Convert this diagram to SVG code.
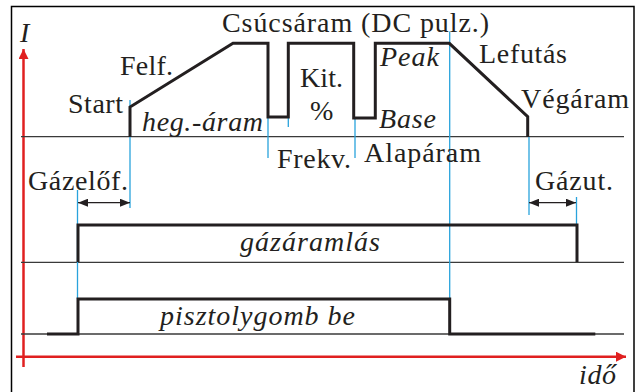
<svg xmlns="http://www.w3.org/2000/svg" width="637" height="392" viewBox="0 0 637 392">
<style>
.t{font-family:'Liberation Serif','DejaVu Serif','Noto Serif','Times New Roman',serif;font-size:28px;fill:#231f20}
.i{font-style:italic}
.w{fill:none;stroke:#231f20;stroke-width:3;stroke-linejoin:miter}
.b{fill:none;stroke:#3a3a3a;stroke-width:1.3}
.bl{fill:none;stroke:#29a3dc;stroke-width:1.3}
.ax{fill:none;stroke:#e02020;stroke-width:2.5}
.da{fill:none;stroke:#231f20;stroke-width:1.3}
</style>
<defs>
<marker id="ah" viewBox="0 0 10 8" refX="10" refY="4" markerWidth="10" markerHeight="8" markerUnits="userSpaceOnUse" orient="auto-start-reverse">
<path d="M0,0 L10,4 L0,8 Z" fill="#231f20"/>
</marker>
<marker id="ra" viewBox="0 0 10 10" refX="10" refY="5" markerWidth="10" markerHeight="10" markerUnits="userSpaceOnUse" orient="auto">
<path d="M0,0 L10,5 L0,10 Z" fill="#e02020"/>
</marker>
</defs>
<rect x="11.5" y="6.5" width="622.5" height="392" fill="#fff" stroke="#000" stroke-width="1.5"/>
<g id="axes">
<line class="ax" x1="23.5" y1="367" x2="23.5" y2="49" marker-end="url(#ra)"/>
<line class="ax" x1="16" y1="356.7" x2="626" y2="356.7" marker-end="url(#ra)"/>
</g>
<g id="baselines">
<line class="b" x1="21" y1="136.7" x2="624" y2="136.7"/>
<line class="b" x1="21" y1="262.3" x2="624" y2="262.3"/>
<line class="b" x1="21" y1="334" x2="624" y2="334"/>
</g>
<g id="connectors">
<line class="bl" x1="130" y1="100" x2="130" y2="208"/>
<line class="bl" x1="268" y1="117" x2="268" y2="158"/>
<line class="bl" x1="288.3" y1="117" x2="288.3" y2="127"/>
<line class="bl" x1="355" y1="118" x2="355" y2="158"/>
<line class="bl" x1="449.7" y1="31.5" x2="449.7" y2="298.5"/>
<line class="bl" x1="529" y1="137" x2="529" y2="215"/>
<line class="bl" x1="77.5" y1="190" x2="77.5" y2="299"/>
<line class="bl" x1="576.5" y1="197" x2="576.5" y2="225"/>
<line class="da" x1="78" y1="202.7" x2="130" y2="202.7" marker-start="url(#ah)" marker-end="url(#ah)"/>
<line class="da" x1="529" y1="202.7" x2="576" y2="202.7" marker-start="url(#ah)" marker-end="url(#ah)"/>
</g>
<g id="current">
<polyline class="w" points="130,137 130,107 233,43.3 268,43.3 268,117 288.3,117 288.3,43.3 353.7,43.3 353.7,118 375.3,118 375.3,43.3 449.3,43.3 527.7,116.7 527.7,137"/>
</g>
<g id="gas">
<polyline class="w" points="78,262 78,225 577,225 577,262"/>
</g>
<g id="trigger">
<polyline class="w" points="47,334 78,334 78,299 449.7,299 449.7,334 595.3,334"/>
</g>
<g id="labels">
<text class="t i" x="20" y="42" textLength="10">I</text>
<text class="t" x="222" y="32" textLength="267">Csúcsáram (DC pulz.)</text>
<text class="t" x="120" y="75" textLength="53">Felf.</text>
<text class="t" x="68" y="113" textLength="55">Start</text>
<text class="t i" x="142" y="131" textLength="121">heg.-áram</text>
<text class="t" x="300" y="87" textLength="43">Kit.</text>
<text class="t" x="310" y="120" textLength="25">%</text>
<text class="t i" x="380" y="66" textLength="59">Peak</text>
<text class="t i" x="379" y="128" textLength="57">Base</text>
<text class="t" x="479" y="63" textLength="88">Lefutás</text>
<text class="t" x="521" y="108" textLength="108">Végáram</text>
<text class="t" x="277" y="168" textLength="74">Frekv.</text>
<text class="t" x="364" y="162" textLength="117">Alapáram</text>
<text class="t" x="28" y="190" textLength="100">Gázelőf.</text>
<text class="t" x="535" y="190" textLength="78">Gázut.</text>
<text class="t i" x="240" y="251" textLength="140">gázáramlás</text>
<text class="t i" x="160" y="325" textLength="195">pisztolygomb be</text>
<text class="t i" x="579" y="384" textLength="37">idő</text>
</g>
</svg>
